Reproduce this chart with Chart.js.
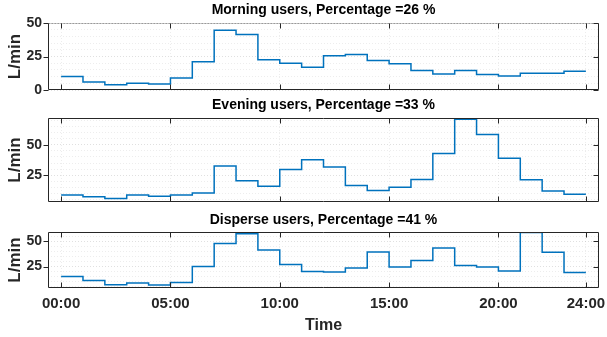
<!DOCTYPE html>
<html>
<head>
<meta charset="utf-8">
<script src="https://cdn.jsdelivr.net/npm/chart.js@4.4.0/dist/chart.umd.min.js"></script>
<style>
  html, body { margin: 0; padding: 0; background: #fff; }
  #wrap { position: relative; width: 607px; height: 337px; overflow: hidden; }
  #wrap canvas { position: absolute; left: 0; }
</style>
</head>
<body>
<div id="wrap">
  <canvas id="morningChart" width="607" height="100" style="top:0px"></canvas>
  <canvas id="eveningChart" width="607" height="117" style="top:95px"></canvas>
  <canvas id="disperseChart" width="607" height="127" style="top:210px"></canvas>
</div>
<script>
// Hour boundaries of the daily profile (the last value is held until 24:00)
const hourMarks = [0, 1, 2, 3, 4, 5, 6, 7, 8, 9, 10, 11, 12, 13, 14, 15, 16, 17, 18, 19, 20, 21, 22, 23, 24];
// Labelled time ticks
const timeTicks = [0, 5, 10, 15, 20, 24];

// Hourly mean flow per user cluster, L/min
const morning = [10, 6, 4, 5, 4.5, 9, 21, 44.5, 41.5, 22.5, 20, 17, 25.5, 26.5, 22, 19.5, 14.5, 12, 14.5, 11.5, 10.5, 12.5, 12.5, 14];
const evening = [8.6, 7.2, 5.6, 8.6, 7.5, 8.6, 10.3, 32.5, 20.3, 15.8, 29.7, 37.8, 31.7, 16.4, 12.2, 15, 21.4, 42.8, 71.1, 58.6, 38.9, 21.1, 11.9, 9.2];
const disperse = [15.3, 11.3, 7.3, 9, 7, 9.3, 25, 47.7, 57.3, 41.3, 27, 20.3, 19.7, 23.7, 39.3, 24.7, 31, 43.3, 26, 24.7, 20.7, 58.5, 39, 19.3];

// Cluster names and their share of users, %
const groupNames = ['Morning users', 'Evening users', 'Disperse users'];
const groupShares = [26, 33, 41];

const FONT = "'Liberation Sans', Arial, Helvetica, sans-serif";
const INK = '#262626';

function stairPoints(values) {
  const pts = values.map((v, i) => ({ x: hourMarks[i], y: v }));
  pts.push({ x: hourMarks[values.length], y: values[values.length - 1] });
  return pts;
}

function hourLabel(v) {
  return String(v).padStart(2, '0') + ':00';
}

// Axes box with MATLAB-like tick marks
const framePlugin = {
  id: 'frame',
  afterDraw(chart, args, opts) {
    const { ctx, chartArea: a, scales: { x, y } } = chart;
    const L = Math.round(a.left) + 0.5;
    const R = Math.round(a.right) - 0.5;
    const T = Math.round(a.top) + 0.5;
    const B = Math.round(a.bottom) - 0.5;
    const tl = 5;
    ctx.save();
    ctx.lineWidth = 1;
    ctx.strokeStyle = INK;
    ctx.beginPath();
    ctx.moveTo(L, T); ctx.lineTo(L, B); ctx.lineTo(R, B); ctx.lineTo(R, T);
    if (!opts.softTop) ctx.lineTo(L, T);
    ctx.stroke();
    if (opts.softTop) {
      ctx.save();
      ctx.strokeStyle = 'rgba(0,0,0,0.4)';
      ctx.setLineDash([2, 1]);
      ctx.beginPath(); ctx.moveTo(L, T); ctx.lineTo(R, T); ctx.stroke();
      ctx.restore();
    }
    ctx.beginPath();
    x.ticks.forEach(t => {
      const px = Math.round(x.getPixelForValue(t.value)) + 0.5;
      ctx.moveTo(px, B); ctx.lineTo(px, B - tl);
      ctx.moveTo(px, T); ctx.lineTo(px, T + tl);
    });
    y.ticks.forEach(t => {
      if (t.value % 25 !== 0) return;
      const py = Math.round(y.getPixelForValue(t.value)) + 0.5;
      ctx.moveTo(L, py); ctx.lineTo(L - tl, py);
      ctx.moveTo(R, py); ctx.lineTo(R - tl, py);
    });
    ctx.stroke();
    ctx.restore();
  }
};

function makePanel(id, values, idx, cfg) {
  const showX = !!cfg.showX;
  return new Chart(document.getElementById(id), {
    type: 'line',
    data: {
      datasets: [{
        data: stairPoints(values),
        borderColor: '#0072BD',
        borderWidth: 1.5,
        pointRadius: 0,
        stepped: 'before',
        fill: false
      }]
    },
    options: {
      responsive: false,
      animation: false,
      devicePixelRatio: 1,
      layout: { padding: { left: 0, right: 8, top: 0, bottom: 0 } },
      plugins: {
        legend: { display: false },
        tooltip: { enabled: false },
        title: {
          display: true,
          fullSize: false,
          text: groupNames[idx] + ', Percentage =' + groupShares[idx] + ' %',
          color: '#000',
          font: { family: FONT, size: 14, weight: 'bold', lineHeight: 1.2 },
          padding: { top: cfg.titleTop, bottom: cfg.titleBottom }
        },
        frame: { softTop: !!cfg.softTop }
      },
      scales: {
        x: {
          type: 'linear',
          min: -0.6,
          max: 24.6,
          afterBuildTicks: s => { s.ticks = timeTicks.map(v => ({ value: v })); },
          afterFit: s => { s.height = cfg.xHeight; s.paddingLeft = 0; s.paddingRight = 0; },
          ticks: {
            display: showX,
            autoSkip: false,
            maxRotation: 0,
            padding: 7,
            color: INK,
            font: { family: FONT, size: 15, weight: 'bold' },
            callback: v => hourLabel(v)
          },
          grid: { drawTicks: false, color: 'rgba(0,0,0,0.07)', lineWidth: 1 },
          border: { display: false, dash: [1, 2] },
          title: {
            display: showX,
            text: 'Time',
            color: INK,
            font: { family: FONT, size: 16, weight: 'bold', lineHeight: 1.2 },
            padding: { top: 0, bottom: 2 }
          }
        },
        y: {
          min: cfg.yMin,
          max: cfg.yMax,
          afterBuildTicks: s => {
            const t = [];
            for (let v = Math.ceil(s.min / 5) * 5; v <= s.max; v += 5) t.push({ value: v });
            s.ticks = t;
          },
          afterFit: s => { s.width = 48; s.paddingTop = 0; s.paddingBottom = 0; },
          ticks: {
            autoSkip: false,
            padding: 6,
            color: INK,
            font: { family: FONT, size: 14, weight: 'bold' },
            callback: v => (v % 25 === 0 ? String(v) : '')
          },
          grid: {
            drawTicks: false,
            lineWidth: 1,
            color: c => (c.tick && c.tick.value % 25 === 0 ? 'rgba(0,0,0,0.12)' : 'rgba(0,0,0,0.07)')
          },
          border: { display: false, dash: [1, 2] },
          title: {
            display: true,
            text: 'L/min',
            color: INK,
            font: { family: FONT, size: 17, weight: 'bold', lineHeight: 1.2 },
            padding: { top: 5, bottom: 0 }
          }
        }
      }
    },
    plugins: [framePlugin]
  });
}

makePanel('morningChart', morning, 0, { titleTop: 1.6, titleBottom: 4.6, xHeight: 10, yMin: 0, yMax: 50, softTop: true });
makePanel('eveningChart', evening, 1, { titleTop: 1.6, titleBottom: 4.6, xHeight: 10, yMin: 2.8, yMax: 72.2 });
makePanel('disperseChart', disperse, 2, { titleTop: 2.1, titleBottom: 3.1, xHeight: 49, yMin: 4, yMax: 59, showX: true });
</script>
</body>
</html>
